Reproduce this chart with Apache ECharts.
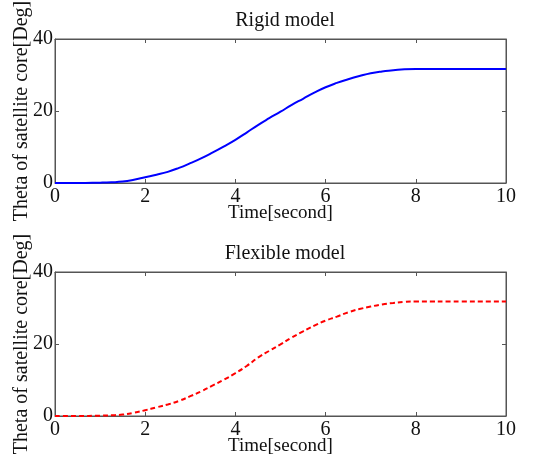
<!DOCTYPE html>
<html>
<head>
<meta charset="utf-8">
<script src="https://cdn.jsdelivr.net/npm/echarts@6/dist/echarts.min.js"></script>
<style>
    html, body { margin: 0; padding: 0; background: #fff; }
    #chart { width: 554px; height: 459px; }
</style>
</head>
<body>
<div id="chart"></div>
<script>
// time samples (s)
const timeSec = [0, 0.5, 1, 1.25, 1.5, 1.75, 2, 2.25, 2.5, 2.75, 3, 3.25, 3.5, 3.75, 4, 4.25, 4.5, 4.75, 5, 5.25, 5.5, 5.75, 6, 6.25, 6.5, 6.75, 7, 7.25, 7.5, 7.75, 8, 9, 10]
// rigid model response (deg)
const rigidTheta = [0, 0, 0.1, 0.2, 0.4, 0.9, 1.6, 2.3, 3.1, 4.2, 5.5, 6.9, 8.5, 10.2, 12.0, 14.0, 16.1, 18.0, 19.8, 21.7, 23.4, 25.1, 26.6, 27.8, 28.8, 29.7, 30.5, 31.0, 31.3, 31.6, 31.7, 31.7, 31.7]
// flexible model response (deg)
const flexTheta = [0, 0, 0.1, 0.2, 0.4, 0.9, 1.6, 2.4, 3.2, 4.2, 5.5, 6.9, 8.5, 10.1, 11.9, 13.9, 16.2, 18.1, 19.9, 21.8, 23.5, 25.1, 26.5, 27.6, 28.8, 29.7, 30.4, 31.0, 31.4, 31.7, 31.8, 31.8, 31.8]
const xTicks = [0, 2, 4, 6, 8, 10]
const yTicks = [0, 20, 40]
const titles = ['Rigid model', 'Flexible model']

const serif = '"Liberation Serif", "DejaVu Serif", serif'
const frameColor = '#555'

const grids = [
    { left: 55, right: 48, top: 39, height: 144, outerBoundsMode: 'none', containLabel: false,
      show: true, borderColor: frameColor, borderWidth: 1 },
    { left: 55, right: 48, top: 272, height: 144, outerBoundsMode: 'none', containLabel: false,
      show: true, borderColor: frameColor, borderWidth: 1 }
]

const xAxes = []
const yAxes = []
grids.forEach((g, i) => {
    // bottom axis with labels
    xAxes.push({
        type: 'value', gridIndex: i, min: xTicks[0], max: xTicks[xTicks.length - 1], interval: 2,
        name: 'Time[second]', nameLocation: 'middle', nameGap: 21, nameMoveOverlap: false,
        nameTextStyle: { fontFamily: serif, fontSize: 19, color: '#111' },
        axisLine: { show: true, onZero: false, lineStyle: { color: frameColor, width: 1 } },
        axisTick: { show: true, inside: true, length: 4, lineStyle: { color: frameColor } },
        axisLabel: { fontFamily: serif, fontSize: 20, color: '#111', margin: 4 },
        splitLine: { show: false }
    })
    // top frame ticks
    xAxes.push({
        type: 'value', gridIndex: i, position: 'top', min: 0, max: 10, interval: 2,
        axisLine: { show: true, onZero: false, lineStyle: { color: frameColor, width: 1 } },
        axisTick: { show: true, inside: true, length: 4, lineStyle: { color: frameColor } },
        axisLabel: { show: false }, splitLine: { show: false }
    })
    yAxes.push({
        type: 'value', gridIndex: i, min: yTicks[0], max: yTicks[yTicks.length - 1], interval: 20,
        name: 'Theta of satellite core[Deg]', nameLocation: 'middle', nameGap: 23, nameRotate: 90,
        nameMoveOverlap: false,
        nameTextStyle: { fontFamily: serif, fontSize: 20, color: '#111' },
        axisLine: { show: true, onZero: false, lineStyle: { color: frameColor, width: 1 } },
        axisTick: { show: true, inside: true, length: 4, lineStyle: { color: frameColor } },
        axisLabel: { fontFamily: serif, fontSize: 20, color: '#111', margin: 2 },
        splitLine: { show: false }
    })
    // right frame ticks
    yAxes.push({
        type: 'value', gridIndex: i, position: 'right', min: 0, max: 40, interval: 20,
        axisLine: { show: true, onZero: false, lineStyle: { color: frameColor, width: 1 } },
        axisTick: { show: true, inside: true, length: 4, lineStyle: { color: frameColor } },
        axisLabel: { show: false }, splitLine: { show: false }
    })
})

const chart = echarts.init(document.getElementById('chart'))
chart.setOption({
    backgroundColor: '#fff',
    animation: false,
    title: titles.map((t, i) => ({
        text: t, left: 280, textAlign: 'center', top: i === 0 ? 6 : 239,
        textStyle: { fontFamily: serif, fontSize: 20, fontWeight: 'normal', color: '#111' }
    })),
    grid: grids,
    xAxis: xAxes,
    yAxis: yAxes,
    series: [
        {
            type: 'line', xAxisIndex: 0, yAxisIndex: 0, showSymbol: false, smooth: true,
            data: timeSec.map((t, k) => [t, rigidTheta[k]]),
            lineStyle: { color: '#0000ff', width: 2 }
        },
        {
            type: 'line', xAxisIndex: 2, yAxisIndex: 2, showSymbol: false, smooth: true,
            data: timeSec.map((t, k) => [t, flexTheta[k]]),
            lineStyle: { color: '#ff0000', width: 2, type: [5, 3] }
        }
    ]
})
</script>
</body>
</html>
